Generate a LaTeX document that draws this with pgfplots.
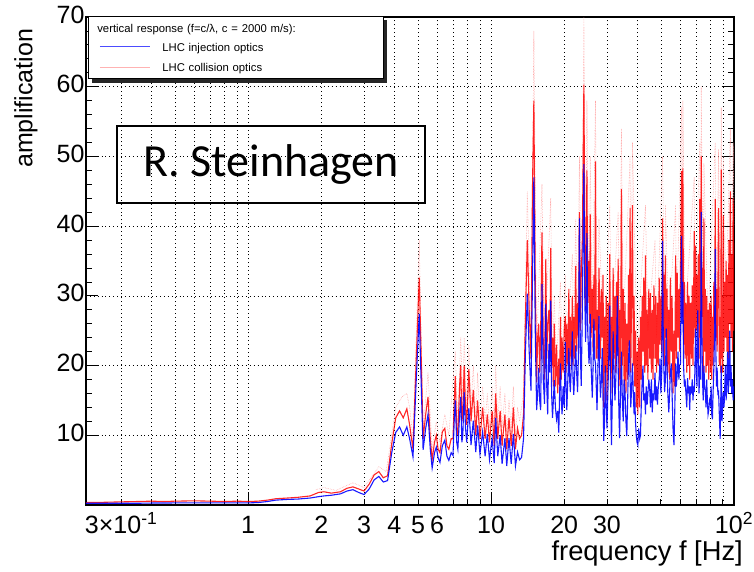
\documentclass[border=0pt]{standalone}
\usepackage{pgfplots}
\pgfplotsset{compat=1.18}
\usepackage{pgfplotstable}
\usepackage{fontspec}
\setmainfont{Liberation Sans}
\newfontfamily\calibri{Carlito}
\usetikzlibrary{shadows}

% vertical response amplification: f [Hz], injection optics (b), collision optics (r)
\pgfplotstableread{
f b r
0.215 0.25 0.35
0.25 0.25 0.38
0.3 0.25 0.45
0.35 0.25 0.5
0.4 0.28 0.55
0.45 0.28 0.5
0.5 0.3 0.55
0.6 0.3 0.6
0.7 0.3 0.55
0.8 0.3 0.5
0.9 0.3 0.55
1.0 0.3 0.5
1.1 0.35 0.55
1.2 0.5 0.7
1.3 0.7 0.9
1.45 0.8 1.0
1.6 0.85 1.1
1.8 1.0 1.3
1.95 1.2 1.8
2.05 1.3 1.9
2.2 1.4 1.7
2.4 1.6 1.9
2.55 2.0 2.4
2.7 2.2 2.6
2.85 1.8 2.3
3.0 1.5 2.0
3.15 2.3 3.0
3.3 3.6 4.3
3.45 4.1 4.8
3.6 3.3 3.9
3.75 3.5 4.2
3.9 7.5 8.8
4.05 10.4 12.5
4.2 11.2 13.5
4.35 10.0 12.5
4.5 11.2 13.8
4.62 9.5 11.5
4.77 6.9 8.0
4.92 18 21
5.06 27.4 32.6
5.15 18 22
5.25 7.9 9.5
5.38 11 13
5.5 13 15.5
5.62 8 9.5
5.72 5.3 6.5
5.85 7.5 9
5.95 8.3 10
6.05 6.8 8
6.16 6.1 7.5
6.3 8.5 10.5
6.45 9.3 11
6.58 7.0 8.5
6.7 6.4 8
6.85 7.5 9.5
6.97 7.1 9.5
7.05 12 14.5
7.12 15 18.5
7.22 9 11
7.3 8 10
7.42 13 17
7.5 15.5 20
7.58 9 12
7.65 10 13
7.75 16.2 20
7.85 11 14
7.94 9 11.5
8.1 13.9 19.5
8.27 8.6 12
8.45 12.1 16.5
8.65 7.6 10
8.8 11.4 15
9.0 7.3 9.5
9.23 10.5 14
9.45 7.0 9.5
9.65 10.2 13
9.85 6.5 9
10.1 9.6 13.5
10.3 6.0 8.5
10.45 12.5 16
10.65 7.0 9.5
10.9 10 13.5
11.1 5.9 8.5
11.4 9.6 13
11.6 5.6 8
11.85 9.6 12.5
12.1 5.9 8.5
12.35 10.2 14
12.6 5.6 8
12.85 7.6 11
13.1 6.5 9.5
13.35 6.8 10
13.6 9.5 13
13.85 22 27
14.1 30.3 38
14.35 22 28
14.6 16.4 21
14.8 32 45
15.0 47 58
15.2 25 32
15.4 13.6 17.6
15.55 16 24
15.7 19.7 26
15.85 15 19
16.0 13.6 25
16.2 31.7 39.1
16.4 18 23
16.6 14.5 18
16.8 28.9 35.3
16.95 17 21
17.1 13 26
17.3 23.1 28
17.45 19 21
17.6 29.3 36.9
17.75 16 20
17.9 12.5 24
18.05 15 17
18.2 17.9 26
18.4 14 17
18.6 12.3 23
18.8 13.5 16
19.0 10.4 21
19.15 16 17
19.3 20.3 27
19.45 15 18
19.6 13 24
19.8 17 19
20.0 14 25
20.2 23.4 27.1
20.35 17 19
20.5 13.6 26
20.7 18 20
20.9 22.5 31
21.05 18 19
21.2 16.2 27
21.4 20 21
21.6 24.9 30
21.75 18 20
21.9 15.8 27
22.1 19 21
22.3 22.9 34.3
22.5 19 22
22.7 16.2 29
22.9 22 24
23.1 41.1 42
23.3 22 25
23.5 17.1 33
23.75 28 38
24.1 48.9 60.3
24.3 30 40
24.5 23.4 28
24.65 28 36
24.8 39 48
25.0 25 29
25.3 20.3 35
25.45 22 26
25.6 27.4 41.7
25.8 20 24
26.1 15.4 31
26.3 20 22
26.5 26.7 33
26.7 21 25
26.9 20.3 49.3
27.1 17 21
27.3 13.6 28
27.55 20 21
27.8 27.1 34
28.0 19 29
28.2 15.4 21
28.45 18 31
28.7 22.5 24
28.9 15 33
29.1 9.2 14
29.3 12 27
29.55 20 19
29.8 14 30
30.0 11 15
30.3 17 29
30.55 22 20
30.8 28.6 36
31.05 16 18
31.3 8.6 27
31.55 15 16
31.8 24.9 34
32.1 19 21
32.35 15 30
32.6 17.9 19
32.85 22 32
33.1 30 22
33.35 20 35.3
33.6 13 17
33.8 9.6 28
34.1 16 18
34.4 22 45.3
34.7 15 20
35.0 12 31
35.3 18 17
35.6 16.2 29
35.9 12 16
36.2 9.9 26
36.5 15 18
36.8 21 33
37.1 23.6 22
37.35 18 42.6
37.6 14 19
37.9 17 31
38.2 20.3 43
38.5 16 20
38.8 13 30
39.0 16.2 17
39.3 12 25
39.6 10 14
39.9 9 22
40.2 8.6 13
40.5 11 24
40.9 9.5 14
41.2 10 27
41.5 14 18
41.9 18 30
42.2 20 22
42.5 15 32.6
42.9 16 19
43.2 13 35.8
43.5 17 20
43.9 14.4 28
44.2 16 18
44.6 18 31
45.0 16.5 21
45.3 14 30.4
45.7 18 19
46.1 13.3 28
46.4 16 18
46.8 15 31.5
47.3 19 21
47.6 15 30
48.0 17 19
48.4 14.4 29
48.8 17 20
49.2 18 32.6
49.6 21 23
50.0 16 30
50.4 19 22
50.8 37.9 41.1
51.2 22 25
51.5 19 33
51.8 16.2 20
52.2 18 35.8
52.6 25.3 24
53.0 20 31
53.4 16 19
53.9 13.3 28
54.3 16 18
54.7 19 32.6
55.2 20.3 22
55.6 16 30
56.1 11 16
56.6 8.6 25
57.0 13 17
57.5 20.3 35.8
57.9 17 21
58.4 19 33.3
58.8 22 24
59.3 18 31
59.7 20 22
60.2 20.3 34
60.8 38.6 47.9
61.2 26 27
61.6 32 48.3
62.0 20 23
62.5 17 32
62.9 18 21
63.4 16 29
63.9 14 19
64.4 18.2 32
64.9 16 20
65.3 17 30
65.7 13.6 18
66.2 17 29
66.8 16 21
67.3 18 31.5
67.8 15 20
68.2 17 30
68.6 16.2 39.3
69.0 19 24
69.5 25.3 37.2
69.9 20 25
70.4 17 33
70.9 27.9 26
71.3 23 36
71.8 16 21
72.3 20 43.9
72.8 18 24
73.3 42 50
73.8 24 27
74.2 18 34
74.7 15 19
75.2 20 41.1
75.7 17 22
76.2 16.2 31
76.7 14 19
77.2 18 30
77.7 15 20
78.2 13 28
78.7 13.6 18
79.3 15 29
80.0 14.4 19
80.5 17 30
81.0 13 18
81.5 12.3 27
82.0 16 20
82.6 19.7 32
83.2 25 26
83.7 36.7 43.9
84.2 22 24
84.7 17 31
85.2 19.7 22
85.8 16 30
86.4 16.2 42.6
87.0 13 20
87.7 9.5 27
88.2 15 19
88.6 20 48.1
89.0 14 21
89.3 12 30
89.9 15 19
90.4 16.2 41.5
91.0 14 22
91.6 17 32
92.2 20 24
92.8 15 35
93.5 18 22
94.1 22 33
94.7 16 21
95.3 19 38
96.0 25 26
96.6 17 45
97.2 20 24
97.9 16 36
98.5 18 22
99.2 15 44
100 17 25
}\response

% upper error band of the collision-optics response
\pgfplotstableread{
f u
1.9 2.2
2.05 2.5
2.3 2.1
2.7 3.2
3.0 2.5
3.45 5.5
3.7 4.8
4.05 14
4.3 15.5
4.5 16
4.62 14
4.77 9.5
5.06 38
5.25 11
5.5 19
5.72 8
5.95 12
6.16 9
6.45 13
6.7 10
7.12 22
7.3 12
7.5 24
7.65 15
7.75 24
7.94 14
8.1 23
8.27 14
8.45 20
8.65 12
8.8 19
9.0 12
9.23 17
9.45 12
9.65 16
9.85 11
10.1 17
10.3 11
10.45 20
10.65 12
10.9 17
11.1 11
11.4 16
11.6 10
11.85 15
12.1 11
12.35 17
12.6 10
12.85 14
13.1 12
13.6 16
14.1 45
14.6 22
15.0 68
15.4 22
16.2 46
16.6 22
17.6 44
17.9 20
18.2 30
18.6 20
19.3 32
19.6 21
20.2 33
20.5 22
21.6 36
21.9 24
22.3 41
22.7 25
23.1 50
23.5 26
24.1 70
24.5 30
24.8 58
25.3 28
25.6 50
26.1 27
26.9 58
27.3 25
27.8 41
29.1 22
30.8 43
31.3 24
33.35 42
33.8 25
34.4 54
35.0 26
37.35 50
37.6 24
38.2 52
39.9 22
43.2 43
44.2 25
47.3 38
48.0 24
50.8 50
51.8 26
52.2 43
53.9 25
57.5 43
58.0 26
60.8 57
61.2 30
61.6 58
62.9 27
68.6 47
69.0 28
72.3 52
72.8 30
73.3 60
74.7 27
75.2 49
78.2 26
83.7 52
84.7 28
86.4 51
87.7 26
88.6 57
89.3 30
90.4 50
92.8 30
96.6 54
97.9 32
99.2 52
100 40
}\band

\begin{document}
\begin{tikzpicture}
\useasboundingbox (-86pt,-67pt) rectangle (668pt,505pt);
\begin{semilogxaxis}[
  scale only axis,
  width=648pt, height=488pt,
  xmin=0.215, xmax=100, ymin=0, ymax=70,
  axis line style={line width=1.2pt},
  tick align=inside,
  xtick pos=left,
  xtick={1,10,100},
  xticklabels={1,10,10\textsuperscript{2}},
  minor xtick={0.3,0.4,0.5,0.6,0.7,0.8,0.9,2,3,4,5,6,7,8,9,20,30,40,50,60,70,80,90},
  extra x ticks={0.3,2,3,4,5,6,20,30},
  extra x tick labels={3×10\textsuperscript{-1},2,3,4,5,6,20,30},
  extra x tick style={major tick length=0pt, grid=none},
  ytick={10,20,30,40,50,60,70},
  minor y tick num=4,
  major tick length=12pt,
  minor tick length=6pt,
  every tick/.style={black, line width=0.8pt},
  xmajorgrids=true, xminorgrids=true, ymajorgrids=true,
  major grid style={black, line width=0.7pt, dash pattern=on 0.9pt off 3pt},
  minor grid style={black, line width=0.7pt, dash pattern=on 0.9pt off 3pt},
  /pgf/number format/assume math mode=true,
  ticklabel style={font=\fontsize{25}{30}\selectfont},
  typeset ticklabels with strut,
  xticklabel style={yshift=-4pt},
  yticklabel style={xshift=2pt},
  xlabel={frequency f [Hz]},
  xlabel style={at={(rel axis cs:1,0)}, anchor=north east, inner sep=0pt,
                xshift=9pt, yshift=-36pt, font=\fontsize{27.3}{30}\selectfont},
  ylabel={amplification},
  ylabel style={at={(rel axis cs:-0.0745,0.976)}, anchor=south east, inner sep=0pt,
                font=\fontsize{25}{30}\selectfont},
]
\addplot[red!35, line width=0.6pt, densely dotted] table[x=f, y=u] {\band};
\addplot[red, line width=1.1pt, opacity=0.85] table[x=f, y=r] {\response};
\addplot[blue, line width=1.1pt, opacity=0.9] table[x=f, y=b] {\response};

% legend box with drop shadow
\node[draw=black, line width=0.8pt, fill=white,
      drop shadow={shadow xshift=4pt, shadow yshift=-4pt, fill=black!85, opacity=1},
      anchor=north west, text width=295pt, inner xsep=0pt, inner ysep=5pt,
      align=left, font=\fontsize{11.3}{19.5}\selectfont]
  at (rel axis cs:0.003,1.002)
  {\rule{0pt}{11pt}\hspace*{9pt}vertical response (f=c/λ, c = 2000 m/s):\\
   \hspace*{74pt}LHC injection optics\\
   \hspace*{74pt}LHC collision optics};
% legend line samples
\draw[blue!70, line width=0.9pt] (rel axis cs:0.0216,0.9396) -- (rel axis cs:0.0988,0.9396);
\draw[red!30, line width=1pt] (rel axis cs:0.0216,0.8965) -- (rel axis cs:0.0988,0.8965);

\node[draw, line width=1.6pt, minimum width=308pt, minimum height=77pt,
      font=\calibri\fontsize{46}{50}\selectfont]
  at (rel axis cs:0.2855,0.6977) {R. Steinhagen};
\end{semilogxaxis}
\end{tikzpicture}
\end{document}
